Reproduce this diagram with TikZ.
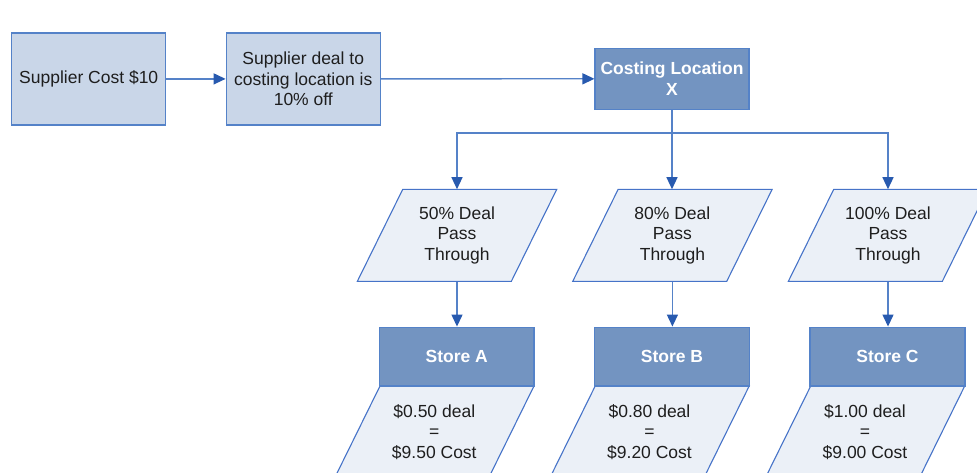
\documentclass[tikz,border=0pt]{standalone}
\usepackage{fontspec}
\setmainfont{Liberation Sans}
\usetikzlibrary{arrows.meta}
\definecolor{boxfill}{RGB}{201,214,232}
\definecolor{boxline}{RGB}{84,130,200}
\definecolor{darkfill}{RGB}{115,148,193}
\definecolor{parafill}{RGB}{235,240,247}
\definecolor{paraline}{RGB}{70,115,200}
\definecolor{conline}{RGB}{85,130,200}
\definecolor{headblue}{RGB}{40,90,175}
\definecolor{txt}{RGB}{30,30,30}
\newcommand{\paragram}[1]{\path[parashape,shift={(#1)}] (-54.3,-46) -- (99.7,-46) -- (54.3,46) -- (-99.7,46) -- cycle;}
\begin{document}
\begin{tikzpicture}[x=1pt,y=-1pt,
  every node/.style={font=\fontsize{17.5}{20.5}\selectfont, align=center, inner sep=0pt, text=txt},
  lightbox/.style={draw=boxline, fill=boxfill, line width=1.4pt, minimum width=154pt, minimum height=92pt},
  darkbox/.style={draw=boxline, fill=darkfill, line width=1.4pt, text=white, font=\fontsize{17.5}{21}\selectfont\bfseries},
  paratext/.style={minimum width=100pt, minimum height=92pt},
  parashape/.style={draw=paraline, fill=parafill, line width=1.1pt},
  conn/.style={draw=conline, line width=1.3pt, -{Triangle[length=12pt,width=11pt,color=headblue]}},
]
\useasboundingbox (0,0) rectangle (977,472);
\clip (0,0) rectangle (977,472);

% top row
\node[lightbox] (s) at (88.7,78.9) {Supplier Cost \$10};
\node[lightbox] (d) at (303.3,78.9) {Supplier deal to\\costing location is\\10\% off};
\node[darkbox, minimum width=153.7pt, minimum height=61pt] (x) at (672,78.8) {Costing Location\\X};

% deal pass-through parallelograms
\coordinate (c1) at (457,235.4);
\coordinate (c2) at (672.4,235.4);
\coordinate (c3) at (888,235.4);
\paragram{c1}
\paragram{c2}
\paragram{c3}
\node[paratext] (p1) at (c1) {50\% Deal\\Pass\\Through};
\node[paratext] (p2) at (c2) {80\% Deal\\Pass\\Through};
\node[paratext] (p3) at (c3) {100\% Deal\\Pass\\Through};

% lower parallelograms (cut by the bottom edge)
\coordinate (e1) at (434.3,432);
\coordinate (e2) at (649.5,432);
\coordinate (e3) at (865,432);
\paragram{e1}
\paragram{e2}
\paragram{e3}
\node[paratext] (q1) at (e1) {\$0.50 deal\\=\\\$9.50 Cost};
\node[paratext] (q2) at (e2) {\$0.80 deal\\=\\\$9.20 Cost};
\node[paratext] (q3) at (e3) {\$1.00 deal\\=\\\$9.00 Cost};

% stores
\node[darkbox, minimum width=154.7pt, minimum height=58.7pt] (sa) at (456.7,356.6) {Store A};
\node[darkbox, minimum width=154.7pt, minimum height=58.7pt] (sb) at (672,356.6) {Store B};
\node[darkbox, minimum width=154.7pt, minimum height=58.7pt] (sc) at (887.5,356.6) {Store C};

% connectors
\draw[conn] (s) -- (d);
\draw[conn] (d) -- (x);
\draw[conn] (x.south) -- ++(0,23) -| (p1.north);
\draw[conn] (x.south) -- (x.south |- p2.north);
\draw[conn] (x.south) -- ++(0,23) -| (p3.north);
\draw[conn] (p1.south) -- (p1.south |- sa.north);
\draw[conn] (p2.south) -- (p2.south |- sb.north);
\draw[conn] (p3.south) -- (p3.south |- sc.north);
\end{tikzpicture}
\end{document}
